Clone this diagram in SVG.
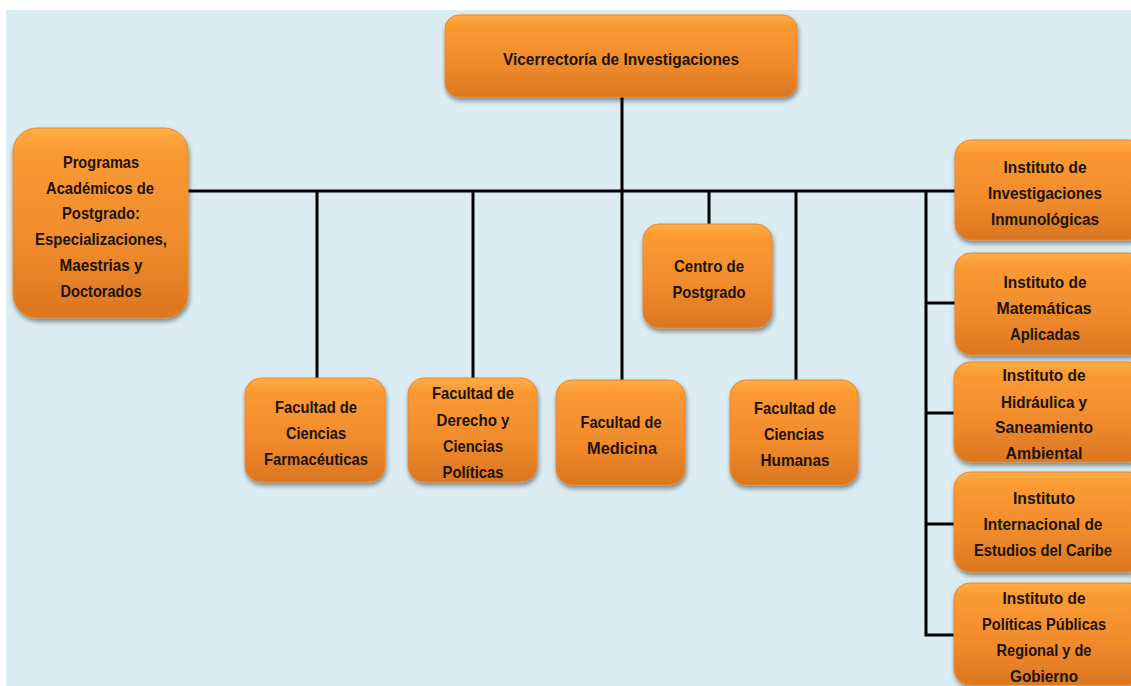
<svg xmlns="http://www.w3.org/2000/svg" width="1131" height="686" viewBox="0 0 1131 686">
  <defs>
    <linearGradient id="orange" x1="0" y1="0" x2="0" y2="1">
      <stop offset="0" stop-color="#FFAE48"/>
      <stop offset="0.12" stop-color="#FB9A33"/>
      <stop offset="0.6" stop-color="#F08B2C"/>
      <stop offset="1" stop-color="#DB7621"/>
    </linearGradient>
    <filter id="shadow" x="-10%" y="-10%" width="125%" height="130%">
      <feGaussianBlur in="SourceAlpha" stdDeviation="2.5"/>
      <feOffset dx="1" dy="3" result="b"/>
      <feComponentTransfer><feFuncA type="linear" slope="0.45"/></feComponentTransfer>
      <feMerge><feMergeNode/><feMergeNode in="SourceGraphic"/></feMerge>
    </filter>
    <style>
      .box { fill: url(#orange); stroke: #E68830; stroke-width: 1; filter: url(#shadow); }
      .lbl { font-family: "Liberation Sans", Arial, sans-serif; font-weight: bold; font-size: 17px; fill: #1c1206; text-anchor: middle; }
      .wire { stroke: #000; stroke-width: 3; fill: none; }
    </style>
  </defs>

  <rect x="0" y="0" width="1131" height="686" fill="#ffffff"/>
  <rect x="6" y="10" width="1125" height="676" fill="#DBEDF3"/>

  <!-- connectors -->
  <g id="connectors">
    <path class="wire" d="M622 97 V191"/>
    <path class="wire" d="M188 191 H955"/>
    <path class="wire" d="M317 191 V378"/>
    <path class="wire" d="M473 191 V378"/>
    <path class="wire" d="M622 191 V380"/>
    <path class="wire" d="M709 191 V224"/>
    <path class="wire" d="M796 191 V380"/>
    <path class="wire" d="M926 191 V635 H955"/>
    <path class="wire" d="M926 303 H955"/>
    <path class="wire" d="M926 413 H955"/>
    <path class="wire" d="M926 524 H955"/>
  </g>

  <g id="vicerrectoria">
    <rect class="box" x="445" y="15" width="352" height="82" rx="14"/>
    <text class="lbl" x="621" y="65" textLength="236" lengthAdjust="spacingAndGlyphs">Vicerrectoría  de Investigaciones</text>
  </g>

  <g id="programas">
    <rect class="box" x="13" y="128" width="175" height="190" rx="24"/>
    <text class="lbl" x="101" y="168" textLength="76" lengthAdjust="spacingAndGlyphs">Programas</text>
    <text class="lbl" x="100" y="194" textLength="108" lengthAdjust="spacingAndGlyphs">Académicos de</text>
    <text class="lbl" x="101" y="219" textLength="78" lengthAdjust="spacingAndGlyphs">Postgrado:</text>
    <text class="lbl" x="101" y="245" textLength="132" lengthAdjust="spacingAndGlyphs">Especializaciones,</text>
    <text class="lbl" x="101" y="271" textLength="83" lengthAdjust="spacingAndGlyphs">Maestrias y</text>
    <text class="lbl" x="101" y="297" textLength="81" lengthAdjust="spacingAndGlyphs">Doctorados</text>
  </g>

  <g id="centro-postgrado">
    <rect class="box" x="643" y="224" width="129" height="104" rx="16"/>
    <text class="lbl" x="709" y="272" textLength="70" lengthAdjust="spacingAndGlyphs">Centro de</text>
    <text class="lbl" x="709" y="298" textLength="73" lengthAdjust="spacingAndGlyphs">Postgrado</text>
  </g>

  <g id="fac-farmaceuticas">
    <rect class="box" x="245" y="378" width="140" height="104" rx="16"/>
    <text class="lbl" x="316" y="413" textLength="82" lengthAdjust="spacingAndGlyphs">Facultad de</text>
    <text class="lbl" x="316" y="439" textLength="60" lengthAdjust="spacingAndGlyphs">Ciencias</text>
    <text class="lbl" x="316" y="465" textLength="104" lengthAdjust="spacingAndGlyphs">Farmacéuticas</text>
  </g>

  <g id="fac-derecho">
    <rect class="box" x="408" y="378" width="129" height="104" rx="16"/>
    <text class="lbl" x="473" y="399" textLength="82" lengthAdjust="spacingAndGlyphs">Facultad de</text>
    <text class="lbl" x="473" y="426" textLength="73" lengthAdjust="spacingAndGlyphs">Derecho y</text>
    <text class="lbl" x="473" y="452" textLength="60" lengthAdjust="spacingAndGlyphs">Ciencias</text>
    <text class="lbl" x="473" y="478" textLength="61" lengthAdjust="spacingAndGlyphs">Políticas</text>
  </g>

  <g id="fac-medicina">
    <rect class="box" x="556" y="380" width="129" height="105" rx="16"/>
    <text class="lbl" x="621" y="428" textLength="81" lengthAdjust="spacingAndGlyphs">Facultad de</text>
    <text class="lbl" x="622" y="454" textLength="70" lengthAdjust="spacingAndGlyphs">Medicina</text>
  </g>

  <g id="fac-humanas">
    <rect class="box" x="730" y="380" width="128" height="105" rx="16"/>
    <text class="lbl" x="795" y="414" textLength="82" lengthAdjust="spacingAndGlyphs">Facultad de</text>
    <text class="lbl" x="794" y="440" textLength="60" lengthAdjust="spacingAndGlyphs">Ciencias</text>
    <text class="lbl" x="795" y="466" textLength="69" lengthAdjust="spacingAndGlyphs">Humanas</text>
  </g>

  <g id="inst-inmunologicas">
    <rect class="box" x="955" y="140" width="190" height="100" rx="16"/>
    <text class="lbl" x="1045" y="173" textLength="83" lengthAdjust="spacingAndGlyphs">Instituto de</text>
    <text class="lbl" x="1045" y="199" textLength="114" lengthAdjust="spacingAndGlyphs">Investigaciones</text>
    <text class="lbl" x="1045" y="225" textLength="108" lengthAdjust="spacingAndGlyphs">Inmunológicas</text>
  </g>

  <g id="inst-matematicas">
    <rect class="box" x="955" y="253" width="190" height="102" rx="16"/>
    <text class="lbl" x="1045" y="288" textLength="83" lengthAdjust="spacingAndGlyphs">Instituto de</text>
    <text class="lbl" x="1044" y="314" textLength="95" lengthAdjust="spacingAndGlyphs">Matemáticas</text>
    <text class="lbl" x="1045" y="340" textLength="70" lengthAdjust="spacingAndGlyphs">Aplicadas</text>
  </g>

  <g id="inst-hidraulica">
    <rect class="box" x="954" y="362" width="191" height="100" rx="16"/>
    <text class="lbl" x="1044" y="381" textLength="83" lengthAdjust="spacingAndGlyphs">Instituto de</text>
    <text class="lbl" x="1044" y="408" textLength="86" lengthAdjust="spacingAndGlyphs">Hidráulica y</text>
    <text class="lbl" x="1044" y="433" textLength="98" lengthAdjust="spacingAndGlyphs">Saneamiento</text>
    <text class="lbl" x="1044" y="459" textLength="77" lengthAdjust="spacingAndGlyphs">Ambiental</text>
  </g>

  <g id="inst-caribe">
    <rect class="box" x="954" y="472" width="191" height="100" rx="16"/>
    <text class="lbl" x="1044" y="504" textLength="62" lengthAdjust="spacingAndGlyphs">Instituto</text>
    <text class="lbl" x="1043" y="530" textLength="119" lengthAdjust="spacingAndGlyphs">Internacional de</text>
    <text class="lbl" x="1043" y="556" textLength="138" lengthAdjust="spacingAndGlyphs">Estudios del Caribe</text>
  </g>

  <g id="inst-politicas">
    <rect class="box" x="954" y="583" width="191" height="102" rx="16"/>
    <text class="lbl" x="1044" y="604" textLength="83" lengthAdjust="spacingAndGlyphs">Instituto de</text>
    <text class="lbl" x="1044" y="630" textLength="124" lengthAdjust="spacingAndGlyphs">Políticas Públicas</text>
    <text class="lbl" x="1044" y="656" textLength="95" lengthAdjust="spacingAndGlyphs">Regional y de</text>
    <text class="lbl" x="1044" y="682" textLength="68" lengthAdjust="spacingAndGlyphs">Gobierno</text>
  </g>
</svg>
